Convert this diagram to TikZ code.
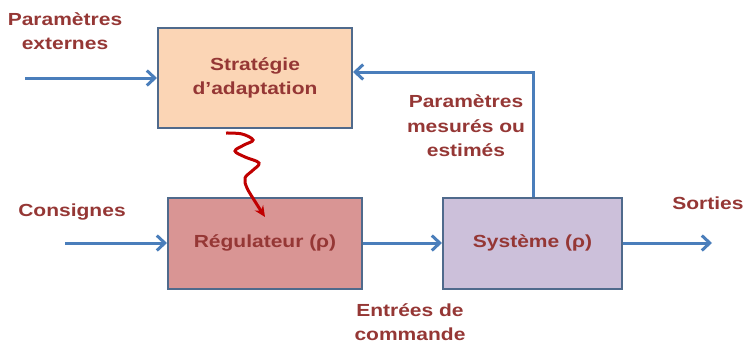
\documentclass[tikz,border=0pt]{standalone}
\usepackage{fontspec}
\setmainfont[FakeStretch=1.2]{Liberation Sans}
\usetikzlibrary{arrows.meta}
\definecolor{txt}{HTML}{953735}
\definecolor{bl}{HTML}{4A7EBB}
\definecolor{bd}{HTML}{4F6A8C}
\definecolor{peach}{HTML}{FBD5B5}
\definecolor{rose}{HTML}{D99594}
\definecolor{lav}{HTML}{CCC0DA}
\definecolor{wred}{HTML}{C00000}
\tikzset{
  blockbox/.style={draw=bd, line width=2pt, minimum width=#1, inner sep=0pt, align=center,
     font=\bfseries\fontsize{17.5}{24.5}\selectfont, text=txt},
  lbl/.style={font=\bfseries\fontsize{17.5}{24.5}\selectfont, text=txt, align=center, inner sep=0pt},
  flow/.style={draw=bl, line width=3pt, -{Straight Barb[length=8pt,width=15pt,line width=3pt]}},
  wave/.style={draw=wred, line width=3pt, -{Stealth[length=11pt,width=10pt]}}
}
\begin{document}
\begin{tikzpicture}[x=1pt,y=-1pt]
\useasboundingbox (0,0) rectangle (747,349);
\node[blockbox=194pt, minimum height=100pt, fill=peach] (strat) at (255,78) {Stratégie\\d’adaptation};
\node[blockbox=194pt, minimum height=91pt, fill=rose] (reg) at (265,243) {Régulateur (\textrm{ρ})};
\node[blockbox=179pt, minimum height=91pt, fill=lav] (sys) at (532.5,243) {Système (\textrm{ρ})};

\coordinate (pe) at (25,78);
\coordinate (co) at (65,243);
\coordinate (so) at (712,243);
\coordinate (fb) at (533,72);

\draw[flow] (pe) -- (strat.west);
\draw[flow] (co) -- (reg.west);
\draw[flow] (reg.east) -- (sys.west);
\draw[flow] (sys.east) -- (so);
\draw[flow] (sys.north -| fb) -- (fb) -- (strat.east |- fb);

\draw[wave] plot[smooth, tension=0.6] coordinates {(226,133) (242,134) (253,140) (244,145) (235,151) (245,157) (259,163) (252,171) (245,178) (247,188) (256,203) (265,217)};

\node[lbl] (lpe) at (65,31) {Paramètres\\externes};
\node[lbl] (lco) at (72,212) {Consignes};
\node[lbl] (lpm) at (466,126) {Paramètres\\mesurés ou\\estimés};
\node[lbl] (lso) at (708,203) {Sorties};
\node[lbl] (lec) at (410,322) {Entrées de\\commande};
\end{tikzpicture}
\end{document}
